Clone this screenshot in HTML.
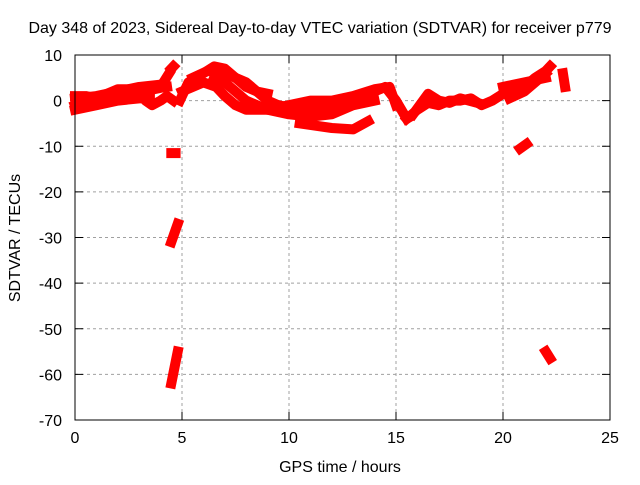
<!DOCTYPE html>
<html><head><meta charset="utf-8"><style>
body{margin:0;background:#fff;}
svg text{font-family:"Liberation Sans",sans-serif;font-size:16px;fill:#000;}
</style></head><body>
<svg width="640" height="480">
<text x="320" y="33" text-anchor="middle">Day 348 of 2023, Sidereal Day-to-day VTEC variation (SDTVAR) for receiver p779</text>
<g id="grid"></g>
<g id="ticks"></g>
<g id="data"></g>
<rect x="75" y="55" width="535" height="365" fill="none" stroke="#000" stroke-width="1"/>
<text x="340" y="472" text-anchor="middle">GPS time / hours</text>
<text transform="translate(20,238) rotate(-90)" text-anchor="middle">SDTVAR / TECUs</text>
</svg>
<script>
const xTicks=[0,5,10,15,20,25];
const yTicks=[10,0,-10,-20,-30,-40,-50,-60,-70];
const tracks=[
[[0,-1],[0.5,0],[1,0.5],[1.5,1],[2,1.5],[2.5,1.8],[3,2],[3.5,2.3],[4,2.8],[4.3,3]],
[[0,1],[0.5,1],[1,0.5],[1.5,1.5],[2,2.5],[2.5,2.5],[3,2.5],[3.3,0],[3.6,-1],[4,0],[4.3,1],[4.6,0]],
[[0,-2],[1,-1],[2,0],[3,0.5],[3.5,0.5]],
[[0,0.5],[1,1],[2,2],[3,3],[4,3.5]],
[[4.2,4.5],[4.4,6]],[[4.5,7],[4.6,7.5]],
[[4.5,-11.5],[4.7,-11.5]],
[[4.5,-31],[4.8,-27]],
[[4.5,-62],[4.8,-55]],
[[20.8,-10.5],[21.1,-9.5]],
[[22,-55],[22.2,-56.5]],
[[4.9,0],[5.3,4],[6,6],[6.5,7.5],[7,7],[7.5,5],[8,3],[8.5,2],[9,0],[9.5,-1],[10,-1.5],[11,-2],[12,-1.5],[13,-0.5],[14,2],[14.5,3],[15,0],[15.5,-4]],
[[5,2],[6,4],[6.6,3],[7,1],[7.5,-1],[8,-2],[9,-2],[10,-1],[11,0],[12,0],[13,1],[14,2.5],[14.7,3],[15,-1]],
[[6.5,5],[7,4],[7.5,2],[8,0],[9,-2],[10,-3],[11,-3.5],[12,-3],[13,-1],[14,0]],
[[5.5,5],[6.2,6.5],[7,6],[8,4],[8.5,2],[9,1.5]],
[[10.5,-5],[12,-6],[13,-6.3],[13.7,-4.5]],
[[15.5,-4],[16,-2],[16.5,-0.5],[17,-1],[17.5,0],[18,0],[18.5,0.5],[19,-1],[19.5,0],[20,1.5],[21,3],[21.5,5],[22,6.5],[22.2,7.5]],
[[15.8,-3],[16.5,1.5],[17,0],[17.5,-0.5],[18,0.5],[18.8,-0.5]],
[[20,3],[20.5,3.5],[21,4],[21.5,4.5],[22,5]],
[[20.3,0.5],[21,2],[21.5,4],[22,6]],
[[22.8,6],[22.9,3]]
];
const X=h=>75+h*(535/25);
const Y=v=>55+(10-v)*(365/80);
const ns="http://www.w3.org/2000/svg";
const grid=document.getElementById('grid'),ticks=document.getElementById('ticks'),data=document.getElementById('data');
function mk(t,a,p){const e=document.createElementNS(ns,t);for(const k in a)e.setAttribute(k,a[k]);p.appendChild(e);return e;}
xTicks.forEach(t=>{
 if(t>0&&t<25){const g=mk('line',{x1:X(t),x2:X(t),y1:55,y2:420,stroke:'#a0a0a0','stroke-dasharray':'3,3'},grid);
 
 }
 mk('line',{x1:X(t),x2:X(t),y1:420,y2:412,stroke:'#000'},ticks);
 mk('line',{x1:X(t),x2:X(t),y1:55,y2:63,stroke:'#000'},ticks);
 const l=mk('text',{x:X(t),y:443,'text-anchor':'middle'},ticks);l.textContent=t;
 
 
});
yTicks.forEach(t=>{
 if(t<10&&t>-70){const g=mk('line',{x1:75,x2:610,y1:Y(t),y2:Y(t),stroke:'#a0a0a0','stroke-dasharray':'3,3'},grid);
 
 }
 mk('line',{x1:75,x2:83,y1:Y(t),y2:Y(t),stroke:'#000'},ticks);
 mk('line',{x1:602,x2:610,y1:Y(t),y2:Y(t),stroke:'#000'},ticks);
 const l=mk('text',{x:62,y:Y(t)+6,'text-anchor':'end'},ticks);l.textContent=t;
 
 
});
tracks.forEach(tr=>{
 const p=mk('polyline',{points:tr.map(d=>X(d[0])+','+Y(d[1])).join(' '),fill:'none',stroke:'#ff0000','stroke-width':10,'stroke-linejoin':'round','stroke-linecap':'square'},data);
 
 
});
</script>
</body></html>
